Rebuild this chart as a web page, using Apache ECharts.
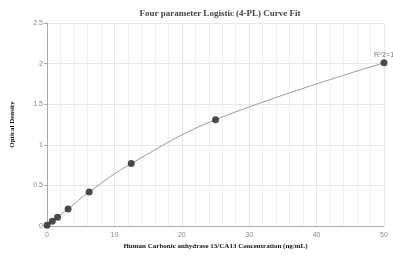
<!DOCTYPE html>
<html>
<head>
<meta charset="utf-8">
<script src="https://cdn.jsdelivr.net/npm/echarts@6/dist/echarts.min.js"></script>
<style>
html, body { margin: 0; padding: 0; background: #fff; }
#chart { width: 393px; height: 255px; }
</style>
</head>
<body>
<div id="chart"></div>
<script>
var concentrations = [0, 0.78, 1.56, 3.125, 6.25, 12.5, 25, 50];
var densities = [0.01, 0.06, 0.11, 0.21, 0.42, 0.77, 1.31, 2.01];
var fitLabel = "R^2=1";

var points = concentrations.map(function(c, i) { return [c, densities[i]]; });

var myChart = echarts.init(document.getElementById("chart"));
var option = {
	backgroundColor: "#fff",
	animation: false,
	title: {
		text: "Four parameter Logistic (4-PL) Curve Fit",
		left: 215,
		textAlign: "center",
		top: 4,
		textStyle: { fontFamily: "Liberation Serif", fontWeight: "bold", fontSize: 9, color: "#444" }
	},
	grid: { left: 47, right: 9, top: 23, bottom: 28 },
	xAxis: {
		type: "value",
		min: 0, max: 50, interval: 10,
		name: "Human Carbonic anhydrase 13/CA13 Concentration (ng/mL)",
		nameLocation: "middle",
		nameGap: 15,
		nameTextStyle: { fontFamily: "Liberation Serif", fontWeight: "bold", fontSize: 7, color: "#111" },
		axisLine: { lineStyle: { color: "#aaa" } },
		axisTick: { show: false },
		axisLabel: { fontSize: 7, color: "#888", margin: 5 },
		splitLine: { lineStyle: { color: "#e3e7f0" } },
		minorTick: { show: false, splitNumber: 5 },
		minorSplitLine: { show: true, lineStyle: { color: "#edf0f6" } }
	},
	yAxis: {
		type: "value",
		min: 0, max: 2.5, interval: 0.5,
		name: "Optical Density",
		nameLocation: "middle",
		nameGap: 31,
		nameTextStyle: { fontFamily: "Liberation Serif", fontWeight: "bold", fontSize: 7, color: "#111" },
		axisLine: { show: true, lineStyle: { color: "#aaa" } },
		axisTick: { show: true, length: 3, lineStyle: { color: "#aaa" } },
		axisLabel: { fontSize: 7, color: "#888", margin: 4 },
		splitLine: { lineStyle: { color: "#e3e7f0" } }
	},
	series: [{
		type: "line",
		data: points,
		smooth: 0.4,
		showSymbol: false,
		lineStyle: { color: "#999", width: 1 },
		z: 1
	}, {
		type: "scatter",
		data: points,
		symbolSize: 7,
		itemStyle: { color: "#222" },
		label: {
			show: true,
			position: "top",
			distance: 1,
			fontSize: 7,
			color: "#555",
			formatter: function(p) { return p.dataIndex === points.length - 1 ? fitLabel : ""; }
		},
		z: 2
	}]
};
myChart.setOption(option);
</script>
</body>
</html>
